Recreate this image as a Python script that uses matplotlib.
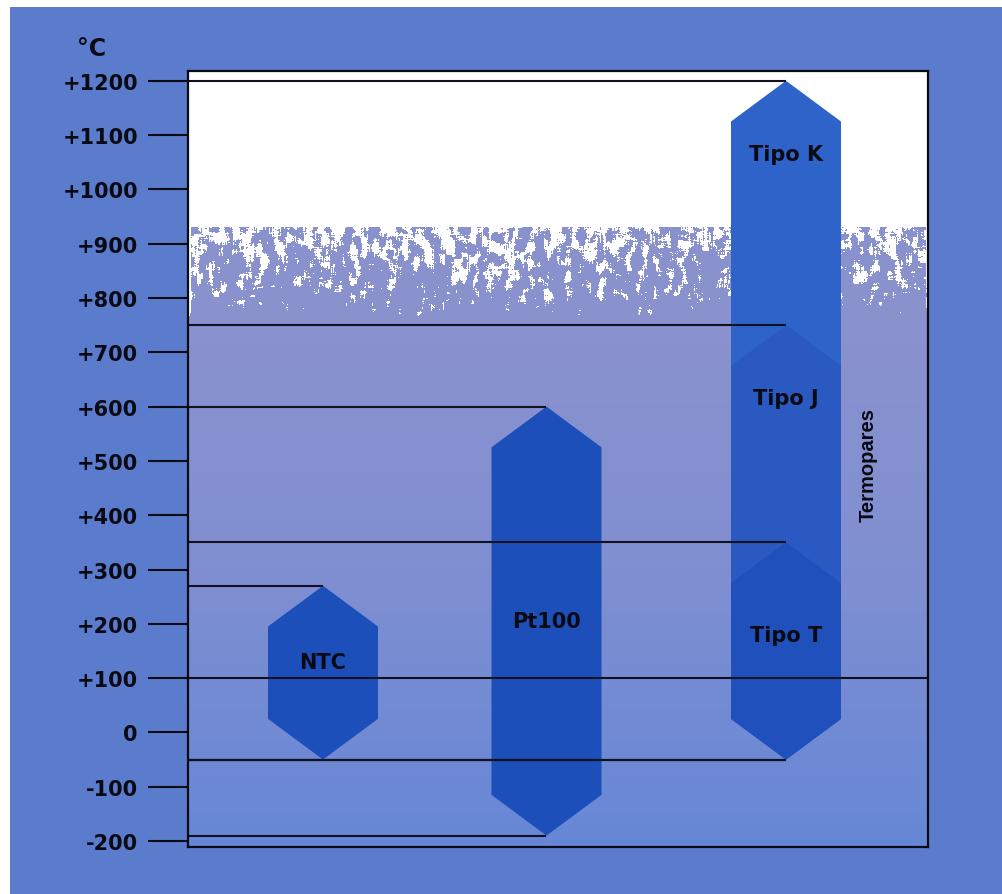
import numpy as np
import matplotlib
matplotlib.use("Agg")
import matplotlib.pyplot as plt
from matplotlib.patches import Polygon, Rectangle

# Measurement ranges of common temperature sensors (°C)
sensors = ["NTC", "Pt100", "Tipo K", "Tipo J", "Tipo T"]
t_min = [-50, -190, -50, -50, -50]
t_max = [270, 600, 1200, 750, 350]
x_pos = [1.35, 3.585, 5.98, 5.98, 5.98]
label_y = [130, 205, 1065, 615, 180]
ref_line = 100

tick_values = list(range(-200, 1300, 100))
tick_labels = ["-200", "-100", "0", "+100", "+200", "+300", "+400", "+500",
               "+600", "+700", "+800", "+900", "+1000", "+1100", "+1200"]

# styling
W_PX, H_PX = 1002, 895
OUTER = "#5b7ccd"
INK = "#0a0a14"
hex_colors = ["#1d4fbb", "#1d4fbb", "#2e64c9", "#2959c1", "#1f50bb"]
draw_order = [2, 3, 4, 0, 1]
half_w = 0.55
tip = 75
y_lo, y_hi = -211, 1218
x_lo, x_hi = 0.0, 7.4

fig = plt.figure(figsize=(W_PX / 100, H_PX / 100), dpi=100, facecolor=OUTER)
# white margins along the top and left edge
fig.patches.append(Rectangle((0, 1 - 8 / H_PX), 1, 8 / H_PX, transform=fig.transFigure,
                             facecolor="white", edgecolor="none", zorder=-5))
fig.patches.append(Rectangle((0, 0), 10 / W_PX, 1, transform=fig.transFigure,
                             facecolor="white", edgecolor="none", zorder=-5))

ax = fig.add_axes([188 / W_PX, 1 - 848 / H_PX, 740 / W_PX, 776 / H_PX])
ax.set_xlim(x_lo, x_hi)
ax.set_ylim(y_lo, y_hi)

# background: white sky fading through a speckled band into lavender blue
H, Wd = 776, 740
vals = np.linspace(y_hi, y_lo, H)
c_top = np.array([138, 146, 206]) / 255
c_mid = np.array([128, 143, 209]) / 255
c_bot = np.array([102, 135, 214]) / 255
base = np.empty((H, 3))
for i, v in enumerate(vals):
    if v >= 300:
        t = np.clip((760 - v) / 460, 0, 1)
        base[i] = c_top * (1 - t) + c_mid * t
    else:
        t = (300 - v) / (300 - y_lo)
        base[i] = c_mid * (1 - t) + c_bot * t
img = np.repeat(base[:, None, :], Wd, axis=1)

rng = np.random.default_rng(11)
field = rng.random((H, Wd))
kh = np.ones(6) / 6
field = np.apply_along_axis(lambda r: np.convolve(r, kh, mode="same"), 1, field)
kv = np.ones(10) / 10
field = np.apply_along_axis(lambda c: np.convolve(c, kv, mode="same"), 0, field)
field += 0.5 * (rng.random((H, Wd)) - 0.5) * field.std()
ranks = field.ravel().argsort().argsort().reshape(H, Wd) / field.size
band_top, band_bot = 931, 762
p = np.clip((vals - band_bot) / (band_top - band_bot), 0, 1) ** 1.25 * 0.55
p[vals >= band_top] = 1.0
mask = ranks < p[:, None]
img[mask] = 1.0
ax.imshow(img, extent=[x_lo, x_hi, y_lo, y_hi], aspect="auto",
          origin="upper", interpolation="bilinear", zorder=0)

# sensor range hexagons
for i in draw_order:
    c, lo, hi = x_pos[i], t_min[i], t_max[i]
    verts = [(c - half_w, lo + tip), (c - half_w, hi - tip), (c, hi),
             (c + half_w, hi - tip), (c + half_w, lo + tip), (c, lo)]
    ax.add_patch(Polygon(verts, closed=True, facecolor=hex_colors[i],
                         edgecolor="none", zorder=2))

# guide lines from the axis to the tip of each range
for i in range(len(sensors)):
    for v in (t_min[i], t_max[i]):
        ax.plot([x_lo, x_pos[i]], [v, v], color="#111122", lw=1.5, zorder=3,
                solid_capstyle="butt")
ax.axhline(ref_line, color="#111122", lw=1.5, zorder=3)

for i, name in enumerate(sensors):
    ax.text(x_pos[i], label_y[i], name, ha="center", va="center",
            fontsize=15, fontweight="bold", family="DejaVu Sans",
            color=INK, zorder=4)

# vertical group label
ax.text(0.919, 0.494, "Termopares", transform=ax.transAxes, rotation=90,
        ha="center", va="center", fontsize=14.5, family="Liberation Sans",
        fontweight="bold", color=INK, zorder=4)

# axis styling
for s in ax.spines.values():
    s.set_color(INK)
    s.set_linewidth(1.6)
    s.set_zorder(5)
ax.set_xticks([])
ax.set_yticks(tick_values)
ax.set_yticklabels(tick_labels, fontsize=15, fontweight="bold", family="DejaVu Sans",
                   color=INK)
ax.tick_params(axis="y", length=29, width=1.5, color=INK, pad=7)

fig.text(92 / W_PX, 1 - 49 / H_PX, "°C", ha="center", va="center",
         fontsize=17, fontweight="bold", family="DejaVu Sans", color=INK)

fig.savefig("out.png", dpi=100, facecolor=OUTER)
